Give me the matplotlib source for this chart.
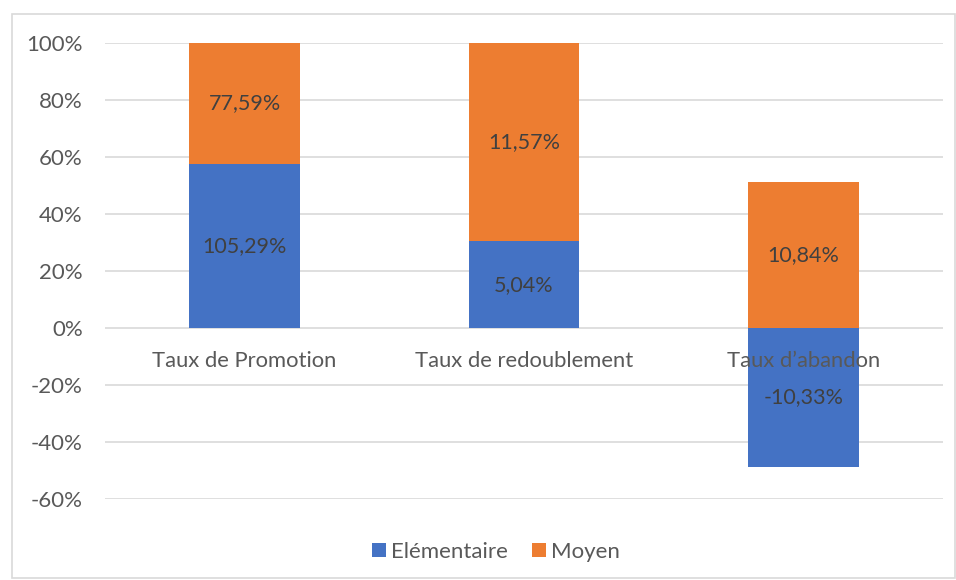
import numpy as np
import matplotlib.pyplot as plt
from matplotlib.patches import Rectangle
from matplotlib.ticker import FuncFormatter

plt.rcParams['font.family'] = ['Lato', 'DejaVu Sans']

categories = ['Taux de Promotion', 'Taux de redoublement', 'Taux d\u2019abandon']
elementaire = [105.29, 5.04, -10.33]
moyen = [77.59, 11.57, 10.84]
labels_elem = ['105,29%', '5,04%', '-10,33%']
labels_moyen = ['77,59%', '11,57%', '10,84%']

#100% empile : part de chaque serie dans la somme des valeurs absolues
elem = np.array(elementaire)
moy = np.array(moyen)
total = np.abs(elem) + np.abs(moy)
elem_pct = elem / total
moy_pct = moy / total
moy_bottom = np.where(elem > 0, elem_pct, 0)

blue = '#4472C4'
orange = '#ED7D31'
grey = '#595959'

fig = plt.figure(figsize=(9.56, 5.80), dpi=100)
ax = fig.add_axes([0.1098, 0.1397, 0.8766, 0.7862])
x = np.arange(len(categories))
w = 0.397
ax.bar(x, elem_pct, w, color=blue, label='Elémentaire', zorder=2)
ax.bar(x, moy_pct, w, bottom=moy_bottom, color=orange, label='Moyen', zorder=2)

for i in range(len(x)):
    ax.text(x[i], elem_pct[i] / 2, labels_elem[i], ha='center', va='center',
            fontsize=15.5, color='#404040', zorder=4)
    ax.text(x[i], moy_bottom[i] + moy_pct[i] / 2, labels_moyen[i], ha='center', va='center',
            fontsize=15.5, color='#404040', zorder=4)

ax.set_xlim(-0.5, 2.5)
ax.set_ylim(-0.6, 1.0)
ax.set_yticks(np.arange(-0.6, 1.01, 0.2))
ax.yaxis.set_major_formatter(FuncFormatter(lambda v, p: '%d%%' % round(v * 100)))
ax.grid(axis='y', color='#d9d9d9', linewidth=1.2, zorder=0)
for s in ax.spines.values():
    s.set_visible(False)
ax.tick_params(axis='y', length=0, labelsize=16, labelcolor=grey, pad=16)

ax.set_xticks(x)
ax.set_xticklabels([])
for i, c in enumerate(categories):
    ax.text(x[i], -0.115, c, ha='center', va='center', fontsize=15.8, color=grey, zorder=5)
ax.tick_params(axis='x', length=0)

ax.legend(loc='center', bbox_to_anchor=(0.519, 0.048), bbox_transform=fig.transFigure,
          ncol=2, frameon=False, fontsize=16, labelcolor=grey,
          handlelength=0.6, handleheight=0.6, handletextpad=0.25, columnspacing=1.1)

fig.patches.append(Rectangle((12 / 956, 2 / 580), 943 / 956, 564 / 580,
                             transform=fig.transFigure, fill=False,
                             edgecolor='#d9d9d9', linewidth=1.2))

fig.savefig('out.png', dpi=100)
